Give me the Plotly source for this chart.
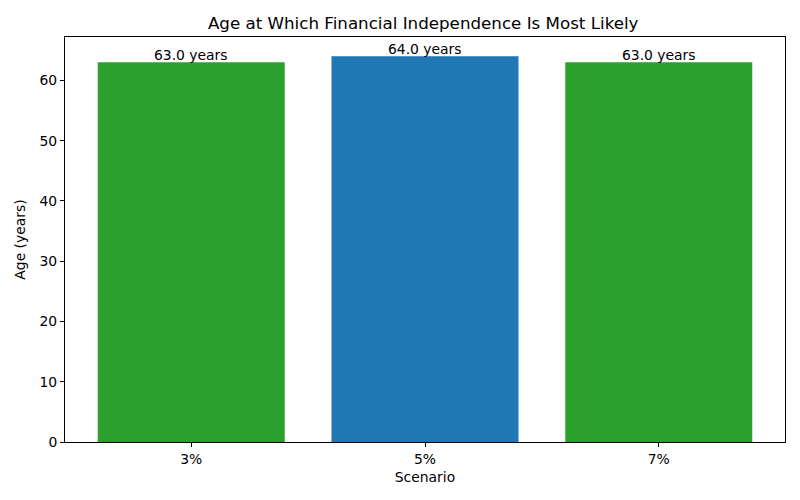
import plotly.graph_objects as go

scenarios = ["3%", "5%", "7%"]
ages = [63.0, 64.0, 63.0]
bar_colors = ["#2ca02c", "#1f77b4", "#2ca02c"]

fig = go.Figure()
fig.add_trace(go.Bar(
    x=list(range(len(scenarios))),
    y=ages,
    width=0.8,
    marker=dict(color=bar_colors, line=dict(width=0)),
    showlegend=False,
))

# value labels sitting on top of each bar
for i, a in enumerate(ages):
    fig.add_annotation(
        x=i, y=a, text=f"{a:.1f} years",
        showarrow=False, yanchor="bottom", yshift=-3,
        font=dict(size=13.9, color="black"),
    )

axis_common = dict(
    showline=True, linecolor="black", linewidth=1, mirror=True,
    ticks="outside", ticklen=4, tickcolor="black",
    showgrid=False, zeroline=False,
    tickfont=dict(size=13.9, color="black"),
)

# page body adds ~8px offset, margins compensate for it
fig.update_layout(
    width=800, height=500,
    title=dict(text="Age at Which Financial Independence Is Most Likely",
               x=0.519, xanchor="center", y=0.97, yanchor="middle",
               font=dict(size=16.7, color="black")),
    font=dict(family="DejaVu Sans", color="black"),
    plot_bgcolor="white", paper_bgcolor="white",
    margin=dict(l=54, r=23, t=29, b=66),
    xaxis=dict(axis_common, range=[-0.54, 2.54],
               tickvals=list(range(len(scenarios))), ticktext=scenarios,
               title=dict(text="Scenario", font=dict(size=13.9), standoff=6)),
    yaxis=dict(axis_common, range=[0, 67.2], tickvals=[0, 10, 20, 30, 40, 50, 60],
               title=dict(text="Age (years)", font=dict(size=13.9), standoff=10)),
)

fig.write_html("out.html")
